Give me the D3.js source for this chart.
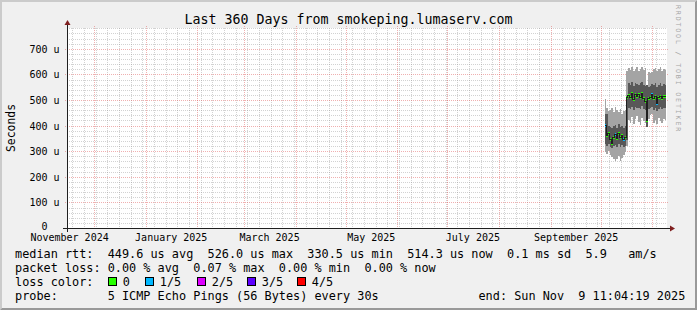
<!DOCTYPE html>
<html>
<head>
<meta charset="utf-8">
<script src="https://cdn.jsdelivr.net/npm/d3@7"></script>
<style>
  html, body { margin: 0; padding: 0; background: #f0f0f0; }
  svg { display: block; }
  text { font-family: "DejaVu Sans Mono", monospace; white-space: pre; }
</style>
</head>
<body>
<svg id="chart" width="697" height="310"></svg>
<script>
// graph window
var endTime = new Date(2025, 10, 9, 11, 4, 19);
var spanDays = 360;
var yMax = 781.25; // us

// one consolidated value per day, microseconds
var days = [
  "2025-10-03", "2025-10-04", "2025-10-05", "2025-10-06", "2025-10-07", "2025-10-08",
  "2025-10-09", "2025-10-10", "2025-10-11", "2025-10-12", "2025-10-13", "2025-10-14",
  "2025-10-15", "2025-10-16", "2025-10-17", "2025-10-18", "2025-10-19", "2025-10-20",
  "2025-10-21", "2025-10-22", "2025-10-23", "2025-10-24", "2025-10-25", "2025-10-26",
  "2025-10-27", "2025-10-28", "2025-10-29", "2025-10-30", "2025-10-31", "2025-11-01",
  "2025-11-02", "2025-11-03", "2025-11-04", "2025-11-05", "2025-11-06", "2025-11-07",
  "2025-11-08"
];
// outer smoke (ping 1 .. ping 5)
var smokeMax = [
  505, 470, 458, 462, 468, 455, 474, 460, 452, 465, 445, 458,
  462, 612, 624, 617, 630, 612, 620, 628, 615, 622, 630, 618,
  625, null, 611, 604, 608, 620, 626, 615, 622, 628, 612, 620,
  616
];
var smokeMin = [
  295, 288, 300, 285, 278, 270, 262, 268, 280, 262, 275, 285,
  295, 320, 420, 410, 432, 405, 425, 438, 415, 402, 430, 418,
  410, null, 425, 440, 445, 412, 420, 408, 430, 418, 410, 425,
  420
];
// inner smoke (ping 2 .. ping 4)
var smokeUpper = [
  445, 445, 400, 395, 390, 398, 402, 392, 405, 395, 400, 390,
  398, 502, 565, 560, 570, 556, 568, 562, 558, 566, 571, 560,
  555, 558, 552, 556, 562, 558, 565, 550, 560, 568, 556, 562,
  560
];
var smokeLower = [
  330, 322, 328, 318, 312, 322, 325, 315, 330, 318, 325, 316,
  322, 345, 470, 466, 474, 462, 472, 468, 470, 464, 478, 466,
  462, 396, 465, 470, 474, 462, 468, 458, 466, 472, 464, 470,
  468
];
var median = [
  400, 360, 370, 345, 331, 355, 365, 350, 368, 352, 360, 345,
  355, 510, 518, 508, 524, 502, 522, 515, 520, 510, 526, 505,
  496, 418, 506, 510, 520, 504, 512, 487, 508, 514, 506, 512,
  514
];
// pings lost out of 5
var lost = [
  1, 0, 0, 0, 0, 0, 1, 0, 0, 0, 0, 1,
  0, 0, 0, 0, 0, 0, 0, 0, 0, 0, 0, 0,
  0, 0, 0, 0, 1, 0, 0, 1, 0, 0, 0, 0,
  0
];

var yTicks = [0, 100, 200, 300, 400, 500, 600, 700];
var lossLabels = ["0", "1/5", "2/5", "3/5", "4/5"];
var lossColors = ["#26ff00", "#00b8ff", "#dd00ff", "#5e00ff", "#ff0000"];
var lossBoxX = [108.5, 145.5, 197.5, 247.5, 297.5];

var title = "Last 360 Days from smokeping.lumaserv.com";
var legendLines = [
  "median rtt:  449.6 us avg  526.0 us max  330.5 us min  514.3 us now  0.1 ms sd  5.9   am/s",
  "packet loss: 0.00 % avg  0.07 % max  0.00 % min  0.00 % now",
  "loss color:",
  "probe:       5 ICMP Echo Pings (56 Bytes) every 30s              end: Sun Nov  9 11:04:19 2025"
];

var W = 697, H = 310;
var plot = { left: 67, right: 667, top: 28, bottom: 228 };

var svg = d3.select("#chart");
var parseDay = d3.timeParse("%Y-%m-%d");
var startTime = d3.timeDay.offset(endTime, -spanDays);

var x = d3.scaleTime().domain([startTime, endTime]).range([plot.left, plot.right]);
var y = d3.scaleLinear().domain([0, yMax]).range([plot.bottom, plot.top]);
var px = function (v) { return Math.floor(v) + 0.5; };
var py = function (v) { return Math.round(v) + 0.5; };

// background with rrdtool style bevel
svg.append("rect").attr("width", W).attr("height", H).attr("fill", "#f0f0f0");
svg.append("path")
  .attr("d", "M0,0 L0," + H + " L2," + (H - 2) + " L2,2 L" + (W - 2) + ",2 L" + W + ",0 Z")
  .attr("fill", "#cbcbcb");
svg.append("path")
  .attr("d", "M2," + (H - 2) + " L" + (W - 2) + "," + (H - 2) + " L" + (W - 2) + ",2 L" + W + ",0 L" + W + "," + H + " L0," + H + " Z")
  .attr("fill", "#999999");

svg.append("rect")
  .attr("x", plot.left).attr("y", plot.top)
  .attr("width", plot.right - plot.left).attr("height", plot.bottom - plot.top)
  .attr("fill", "#ffffff");

// grid
var minorCol = "rgba(143,143,143,0.4)";
var majorCol = "rgba(222,80,80,0.45)";
var grid = svg.append("g").attr("shape-rendering", "crispEdges").attr("fill", "none");

var months = d3.timeMonth.range(startTime, endTime);
var weeks = d3.timeMonday.range(startTime, endTime).filter(function (d) { return d.getDate() !== 1; });
var yMinor = d3.range(20, yMax, 20).filter(function (v) { return v % 100 !== 0; });
var yMajor = yTicks.filter(function (v) { return v > 0; });

grid.selectAll(".hmin").data(yMinor).enter().append("line")
  .attr("x1", plot.left).attr("x2", plot.right)
  .attr("y1", function (d) { return py(y(d)); }).attr("y2", function (d) { return py(y(d)); })
  .attr("stroke", minorCol).attr("stroke-dasharray", "1,1");
grid.selectAll(".vmin").data(weeks).enter().append("line")
  .attr("x1", function (d) { return px(x(d)); }).attr("x2", function (d) { return px(x(d)); })
  .attr("y1", plot.top).attr("y2", plot.bottom)
  .attr("stroke", minorCol).attr("stroke-dasharray", "1,1");
grid.selectAll(".hmaj").data(yMajor).enter().append("line")
  .attr("x1", plot.left - 2).attr("x2", plot.right + 2)
  .attr("y1", function (d) { return py(y(d)); }).attr("y2", function (d) { return py(y(d)); })
  .attr("stroke", majorCol).attr("stroke-dasharray", "1,1");
grid.selectAll(".vmaj").data(months).enter().append("line")
  .attr("x1", function (d) { return px(x(d)); }).attr("x2", function (d) { return px(x(d)); })
  .attr("y1", plot.top - 2).attr("y2", plot.bottom + 2)
  .attr("stroke", majorCol).attr("stroke-dasharray", "1,1");

// smoke
var rows = days.map(function (s, i) {
  var d0 = parseDay(s);
  return {
    d0: d0, d1: d3.timeDay.offset(d0, 1),
    hi: smokeMax[i], lo: smokeMin[i],
    up: smokeUpper[i], dn: smokeLower[i],
    med: median[i], loss: lost[i]
  };
});

var smoke = svg.append("g").attr("shape-rendering", "crispEdges");
function band(key, hiKey, loKey, color) {
  smoke.selectAll("." + key)
    .data(rows.filter(function (r) { return r[hiKey] != null && r[loKey] != null; }))
    .enter().append("rect")
    .attr("x", function (r) { return x(r.d0); })
    .attr("width", function (r) { return x(r.d1) - x(r.d0); })
    .attr("y", function (r) { return y(r[hiKey]); })
    .attr("height", function (r) { return y(r[loKey]) - y(r[hiKey]); })
    .attr("fill", color);
}
band("outer", "hi", "lo", "#a4a4a4");
band("inner", "up", "dn", "#585858");

// median line underneath the loss coloured marks
var medPts = rows.map(function (r) { return [r.d0, r.med]; });
medPts.push([rows[rows.length - 1].d1, rows[rows.length - 1].med]);
svg.append("path")
  .datum(medPts)
  .attr("fill", "none")
  .attr("stroke", "#202020")
  .attr("stroke-width", 1)
  .attr("shape-rendering", "crispEdges")
  .attr("d", d3.line().curve(d3.curveStepAfter)
    .x(function (p) { return x(p[0]); })
    .y(function (p) { return y(p[1]); }));

smoke.selectAll(".med").data(rows).enter().append("rect")
  .attr("x", function (r) { return x(r.d0); })
  .attr("width", function (r) { return x(r.d1) - x(r.d0); })
  .attr("y", function (r) { return y(r.med) - 1.5; })
  .attr("height", 3)
  .attr("fill", function (r) { return lossColors[r.loss]; });

// axes
var axisCol = "#1f1f1f", arrowCol = "#7f1f1f";
svg.append("line")
  .attr("x1", plot.left - 4).attr("x2", plot.right + 4)
  .attr("y1", py(plot.bottom)).attr("y2", py(plot.bottom))
  .attr("stroke", axisCol).attr("shape-rendering", "crispEdges");
svg.append("line")
  .attr("x1", px(plot.left)).attr("x2", px(plot.left))
  .attr("y1", plot.bottom + 4).attr("y2", plot.top - 4)
  .attr("stroke", axisCol).attr("shape-rendering", "crispEdges");
svg.append("path")
  .attr("d", "M" + (plot.right + 3) + "," + (plot.bottom - 2.5) + " L" + (plot.right + 8) + "," + (plot.bottom + 0.5) + " L" + (plot.right + 3) + "," + (plot.bottom + 3.5) + " Z")
  .attr("fill", arrowCol);
svg.append("path")
  .attr("d", "M" + (plot.left - 2.5) + "," + (plot.top - 3) + " L" + (plot.left + 3.5) + "," + (plot.top - 3) + " L" + (plot.left + 0.5) + "," + (plot.top - 8) + " Z")
  .attr("fill", arrowCol);

// y labels (the zero label sits a little higher, clear of the month labels)
var yl = svg.append("g").attr("font-size", "10px").attr("fill", "#000");
yl.selectAll("text").data(yTicks).enter().append("text")
  .attr("x", 47.5)
  .attr("y", function (d) { return d === 0 ? py(y(d)) + 1 : py(y(d)) + 3.5; })
  .attr("text-anchor", "end")
  .text(function (d) { return String(d); });
yl.selectAll(".unit").data(yMajor).enter().append("text")
  .attr("x", 53.5)
  .attr("y", function (d) { return py(y(d)) + 3.5; })
  .text("u");

// x labels: every second month, centred half a month after its start
var fmt = d3.timeFormat("%B %Y");
var labelMonths = d3.timeMonth.every(2)
  .range(d3.timeMonth.offset(startTime, -1), endTime)
  .filter(function (d) {
    var c = d3.timeDay.offset(d, 15);
    return c >= startTime && c <= endTime;
  });
svg.append("g").attr("font-size", "10px")
  .selectAll("text").data(labelMonths).enter().append("text")
  .attr("x", function (d) { return x(d3.timeDay.offset(d, 15)); })
  .attr("y", 241)
  .attr("text-anchor", "middle")
  .text(function (d) { return fmt(d); });

// title, unit and watermark
svg.append("text")
  .attr("x", W / 2).attr("y", 24)
  .attr("text-anchor", "middle")
  .attr("font-size", "13.3px")
  .text(title);
svg.append("text")
  .attr("transform", "translate(15," + ((plot.top + plot.bottom) / 2) + ") rotate(-90)")
  .attr("text-anchor", "middle")
  .attr("font-size", "11.4px")
  .text("Seconds");
svg.append("text")
  .attr("transform", "translate(675.5,5) rotate(90)")
  .attr("font-size", "6.6px")
  .attr("letter-spacing", "1.85px")
  .attr("fill", "#a6a6a6")
  .text("RRDTOOL / TOBI OETIKER");

// legend
var lg = svg.append("g").attr("font-size", "11.85px");
lg.selectAll("text").data(legendLines).enter().append("text")
  .attr("x", 15)
  .attr("y", function (d, i) { return 257.8 + i * 14.1; })
  .text(function (d) { return d; });

var lossRow = lg.append("g");
lossRow.selectAll("rect").data(lossColors).enter().append("rect")
  .attr("x", function (d, i) { return lossBoxX[i]; })
  .attr("y", 277.5)
  .attr("width", 8).attr("height", 8)
  .attr("fill", function (d) { return d; })
  .attr("stroke", "#000").attr("stroke-width", 1);
lossRow.selectAll("text").data(lossLabels).enter().append("text")
  .attr("x", function (d, i) { return lossBoxX[i] + 14.3; })
  .attr("y", 286)
  .text(function (d) { return d; });
</script>
</body>
</html>
